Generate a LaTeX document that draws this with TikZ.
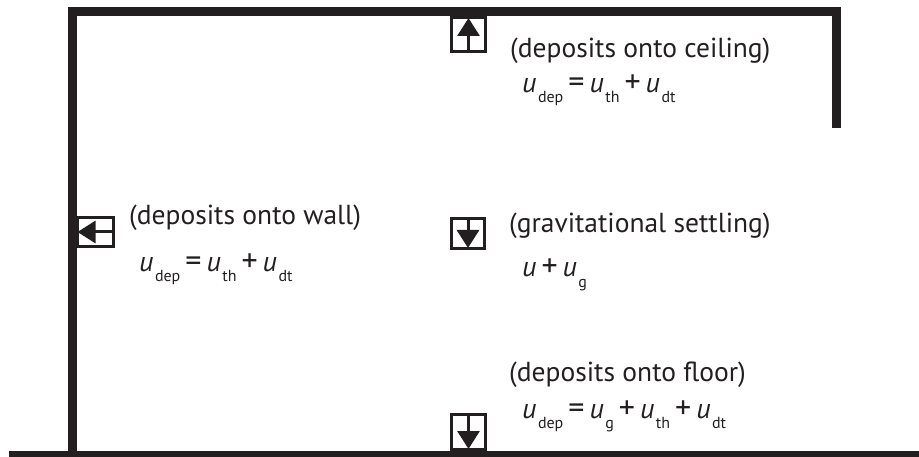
\documentclass[tikz,border=0pt]{standalone}
\usepackage{fontspec}
\setmainfont{PT Sans}
\usetikzlibrary{arrows.meta}
\definecolor{ink}{RGB}{35,31,32}
\newcommand\uvar{\textit{u}}
\newcommand\usub[1]{\hspace{1.5pt}\raisebox{-10pt}{\fontsize{16}{16}\selectfont #1}}
\newcommand\opeq{\hspace*{5pt}{\fontsize{32}{32}\selectfont =}\hspace*{5pt}}
\newcommand\opplus{\hspace*{5pt}{\fontsize{32}{32}\selectfont +}\hspace*{5pt}}
\tikzset{
  x=1pt, y=-1pt,
  wallpart/.style={fill=ink, draw=none},
  fluxbox/.style={draw=ink, line width=3pt, fill=white, inner sep=0pt, rectangle},
  fluxarrow/.style={draw=ink, line width=3pt, -{Triangle[width=22pt,length=18pt]}},
  title/.style={anchor=base west, inner sep=0pt, font=\fontsize{27.5}{30}\selectfont, text=ink},
  formula/.style={anchor=base west, inner sep=0pt, font=\fontsize{28}{30}\selectfont, text=ink},
}
\begin{document}
\begin{tikzpicture}
\useasboundingbox (0,0) rectangle (919,457);
% walls
\fill[wallpart] (68,7) rectangle (841,16);
\fill[wallpart] (68,7) rectangle (77,452);
\fill[wallpart] (832,7) rectangle (841,128);
\fill[wallpart] (9,451) rectangle (919,457);
% boxes
\node[fluxbox, minimum width=34pt, minimum height=34pt] (ceil) at (468.5,34.5) {};
\node[fluxbox, minimum width=36pt, minimum height=29pt] (wallb) at (95,232) {};
\node[fluxbox, minimum width=33pt, minimum height=30pt] (grav) at (468,233.5) {};
\node[fluxbox, minimum width=34pt, minimum height=35pt] (floorb) at (468.5,432) {};
% redraw walls over box borders that merge
\fill[wallpart] (68,7) rectangle (841,16);
\fill[wallpart] (68,7) rectangle (77,452);
\fill[wallpart] (9,451) rectangle (919,457);
% arrows
\draw[fluxarrow] (ceil.south) -- ([yshift=-2pt]ceil.north);
\draw[fluxarrow] (wallb.east) -- ([xshift=2pt]wallb.west);
\draw[fluxarrow] (grav.north) -- ([yshift=2pt]grav.south);
\draw[fluxarrow] (floorb.north) -- ([yshift=2pt]floorb.south);
% texts
\node[title] (t1) at (510,58) {(deposits onto ceiling)};
\node[formula] (f1) at (522,93) {\uvar\usub{dep}\opeq\uvar\usub{th}\opplus\uvar\usub{dt}};
\node[title] (t2) at (129,225) {(deposits onto wall)};
\node[formula] (f2) at (139,272) {\uvar\usub{dep}\opeq\uvar\usub{th}\opplus\uvar\usub{dt}};
\node[title] (t3) at (509,233) {(gravitational settling)};
\node[formula] (f3) at (522,277) {\uvar\opplus\uvar\usub{g}};
\node[title] (t4) at (509,381) {(deposits onto floor)};
\node[formula] (f4) at (522,418) {\uvar\usub{dep}\opeq\uvar\usub{g}\opplus\uvar\usub{th}\opplus\uvar\usub{dt}};
\end{tikzpicture}
\end{document}
